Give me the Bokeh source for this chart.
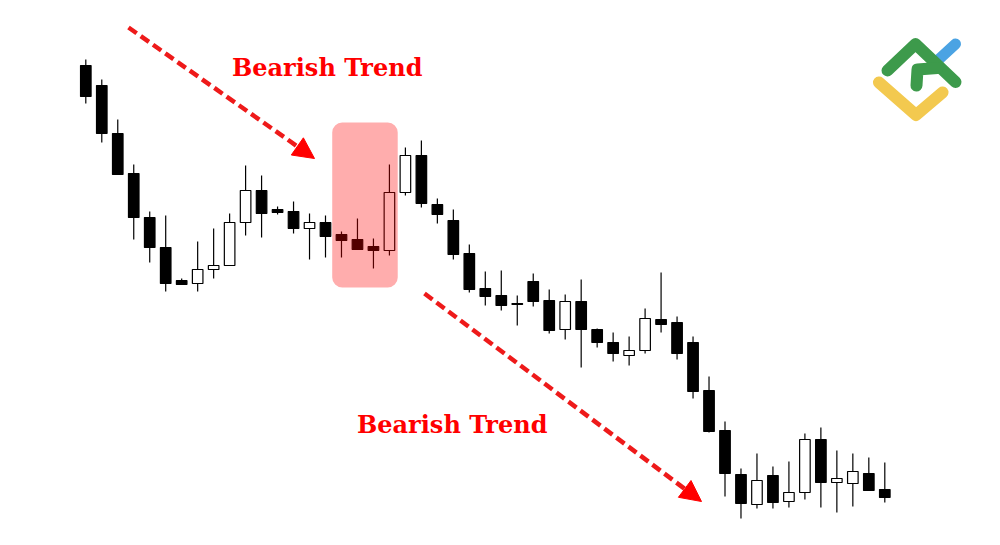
from bokeh.plotting import figure
from bokeh.models import Range1d, BoxAnnotation, Arrow, NormalHead, Label, ColumnDataSource
from bokeh.embed import file_html
from bokeh.resources import INLINE

# ---- candle data (price units) ----
opens  = [480, 460, 412, 372, 328, 298, 265, 262, 276, 280, 323, 355, 336, 334, 317, 323,
          311, 306, 299, 295, 353, 390, 341, 325, 292, 257, 250, 242, 264, 245, 216, 244,
          216, 203, 190, 195, 226, 223, 203, 155, 115, 71, 41, 70, 44, 53, 106, 63, 62, 72, 56]
highs  = [486, 466, 426, 381, 334, 330, 267, 304, 317, 332, 380, 370, 339, 344, 332, 330,
          314, 327, 307, 381, 398, 405, 347, 336, 301, 274, 275, 250, 272, 256, 251, 266,
          217, 213, 209, 237, 273, 229, 209, 169, 124, 77, 92, 79, 84, 112, 118, 95, 92, 88, 83]
lows   = [442, 403, 371, 306, 283, 254, 261, 254, 267, 280, 310, 308, 331, 312, 286, 288,
          288, 296, 277, 290, 350, 338, 322, 286, 253, 240, 235, 220, 239, 212, 206, 178,
          198, 184, 180, 192, 213, 186, 147, 113, 49, 27, 37, 37, 38, 46, 38, 33, 39, 55, 43]
closes = [449, 412, 371, 328, 298, 262, 261, 276, 280, 323, 355, 332, 333, 317, 323, 309,
          305, 296, 295, 353, 390, 342, 331, 291, 256, 249, 240, 241, 244, 215, 244, 216,
          203, 192, 195, 227, 221, 192, 154, 114, 72, 42, 65, 43, 53, 106, 63, 67, 74, 55, 48]
trend_labels = ["Bearish Trend", "Bearish Trend"]
highlight = [16, 19]   # first and last candle of the highlighted pattern

W, H = 984, 529
X0 = -5.338
X1 = X0 + 61.577
Y0, Y1 = 16, 545

def sx(px):
    return X0 + px * (X1 - X0) / W

def sy(py):
    return Y1 - py * (Y1 - Y0) / H

p = figure(width=W, height=H, output_backend="svg", toolbar_location=None,
           x_range=Range1d(X0, X1), y_range=Range1d(Y0, Y1),
           x_axis_location=None, y_axis_location=None, min_border=0,
           background_fill_color="white", border_fill_color="white")
p.outline_line_color = None
p.grid.visible = False

idx = list(range(len(opens)))
src = ColumnDataSource(dict(
    x=idx, o=opens, h=highs, l=lows, c=closes,
    top=[max(o, c) for o, c in zip(opens, closes)],
    bot=[min(o, c) for o, c in zip(opens, closes)],
    fill=["white" if c > o else "black" for o, c in zip(opens, closes)],
))
p.segment(x0="x", y0="h", x1="x", y1="l", source=src, line_color="black", line_width=1.2)
p.vbar(x="x", width=0.66, top="top", bottom="bot", fill_color="fill", source=src,
       line_color="black", line_width=1.2)

# highlight box
a, b = highlight
box = BoxAnnotation(left=a - 0.58, right=b + 0.52,
                    top=max(highs[a:b + 1]) + 42, bottom=min(lows[a:b + 1]) - 19,
                    fill_color="#ff0000", fill_alpha=0.32, line_alpha=0,
                    border_radius=10)
p.add_layout(box)

# arrows
for (x0p, y0p, x1p, y1p) in [(128, 27, 314, 158), (424, 293, 701, 501)]:
    head = NormalHead(size=21, fill_color="#ff0000", line_color="#ff0000", line_width=1)
    p.add_layout(Arrow(end=head, x_start=sx(x0p), y_start=sy(y0p), x_end=sx(x1p), y_end=sy(y1p),
                       line_color="#ee1a1a", line_width=4.5, line_dash="10 5"))

# labels
for txt, (lx, ly) in zip(trend_labels, [(231.5, 66.7), (356.5, 424)]):
    p.add_layout(Label(x=sx(lx), y=sy(ly), text=txt, text_font="DejaVu Serif",
                       text_font_style="bold", text_font_size="24px", text_color="#ff0000",
                       text_align="left", text_baseline="alphabetic"))

# logo
def pts(seq):
    return [sx(q[0]) for q in seq], [sy(q[1]) for q in seq]

blue = [pts([(936, 61), (955, 43.5)])]
green = [pts([(887, 70), (915, 43.5), (955, 81.5)]), pts([(916, 85), (917, 69), (937, 67.5)])]
yellow = [pts([(878.5, 82), (915.5, 114.5), (942, 92)])]
for segs, col, lw in [(blue, "#4ba3e3", 11), (yellow, "#f3c94f", 12), (green, "#3d9a4b", 12)]:
    p.multi_line([s[0] for s in segs], [s[1] for s in segs], line_color=col, line_width=lw,
                 line_cap="round", line_join="round")

open("out.html", "w").write(file_html(p, INLINE))
